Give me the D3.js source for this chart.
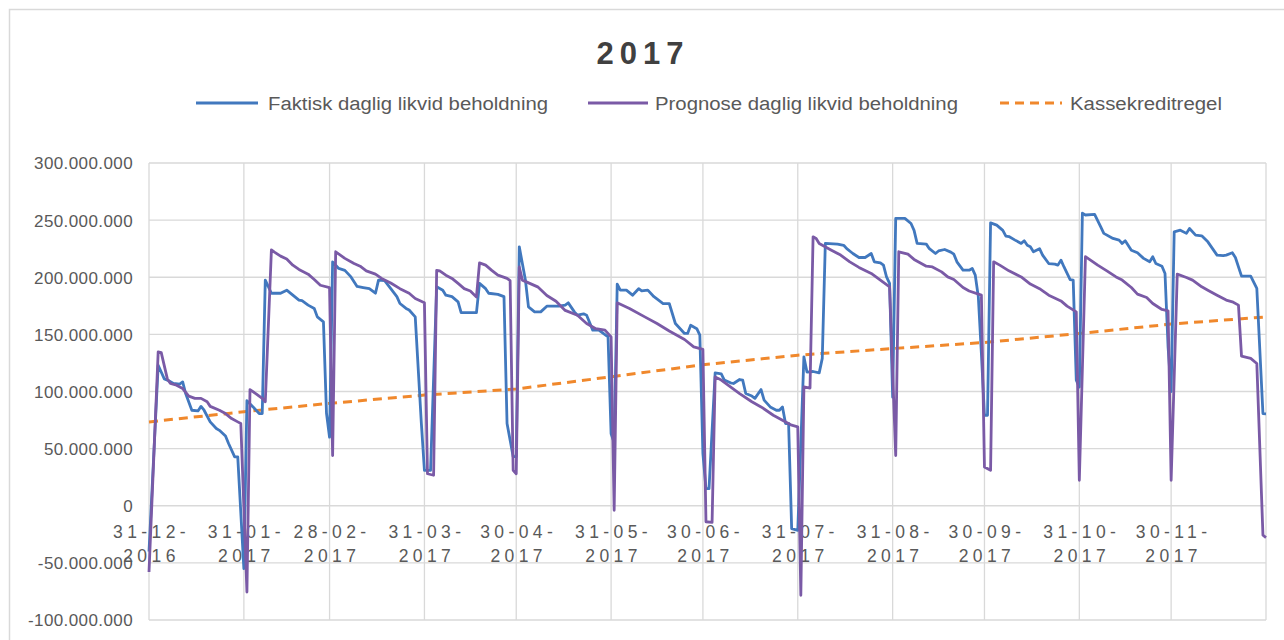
<!DOCTYPE html>
<html>
<head>
<meta charset="utf-8">
<script src="https://cdn.jsdelivr.net/npm/d3@7"></script>
<style>
  html, body { margin: 0; padding: 0; background: #ffffff; }
  svg { display: block; }
</style>
</head>
<body>
<svg id="chart" width="1284" height="640"></svg>
<script>
// ---- DATA (values in millions DKK, day = days after 31-12-2016) ----
const chartTitle = "2017";
const seriesNames = ["Faktisk daglig likvid beholdning", "Prognose daglig likvid beholdning", "Kassekreditregel"];

const tickDates = ["2016-12-31","2017-01-31","2017-02-28","2017-03-31","2017-04-30","2017-05-31",
                   "2017-06-30","2017-07-31","2017-08-31","2017-09-30","2017-10-31","2017-11-30","2017-12-31"];
const yTicks = [-100, -50, 0, 50, 100, 150, 200, 250, 300];

const actualDays = [0,3,5,6,8,10,11,12,14,16,17,18,20,22,23,25,26,28,29,31,32,34,36,37,38,40,43,45,47,49,50,52,54,55,57,58,59,
  60,62,64,66,68,70,72,74,75,77,79,81,82,84,85,87,89,90,92,94,96,97,99,101,102,107,108,110,111,114,116,117,119,120,
  121,123,124,126,128,130,134,136,137,139,140,142,143,145,147,150,151,152,153,154,156,158,160,161,163,165,168,170,172,175,176,177,179,180,181,182,183,
  185,187,188,190,191,193,194,195,197,198,200,201,203,205,206,207,208,209,210,212,214,215,217,219,220,
  221,225,227,228,230,232,234,236,237,239,240,241,242,243,244,247,249,250,251,254,255,257,258,260,262,263,264,266,268,269,270,271,272,273,274,
  275,277,279,280,281,283,285,286,287,288,289,291,292,294,296,297,298,299,301,302,303,304,
  305,306,309,311,312,315,317,318,319,321,323,325,327,328,329,331,332,333,334,
  335,337,339,340,342,344,346,349,351,352,354,355,357,360,362,364,365];
const actualValues = [-40,123,111,110,107,106.5,108.4,98,83.6,83,87,83.6,73.4,67.6,66,61,54.5,42.8,42.8,-55,92,86.5,80.7,80.7,197.5,186,186,188.7,184.3,180,179.5,175.6,172.7,165.3,161,81,60,
  213.5,207.7,206,200.3,192,191,190,186,197.5,197,190,183,177,172.7,171.3,165.3,72,31,31,191.6,188.7,184.3,183,178.5,169,169,194.6,190,186,185,183,72,43,43,
  226.6,197.5,174,169.7,169.7,174.7,174.7,175.6,177.6,169.7,166.8,168,166.8,153.7,153.7,147.8,63,55,194,188.7,188.7,184.3,190,188,188.7,183,177,177,159.5,150.8,150.8,158,155,149.3,45.7,15,15,
  116.3,115.5,110,107.6,107,110.5,110,98.2,96,94,101.7,92.4,86.5,83.6,83.6,86.5,72,72,-20,-21.5,130.3,117,117.5,116.3,129,
  229.6,229,228,225,220.8,217.3,217.3,220.8,213.5,212.6,210.6,200.3,194.6,95,251.5,251.5,247,241,229.6,229,225,220.8,223,224.3,222,220.2,213.5,206.2,206.2,207.7,201.8,182.8,133,79.2,79.2,
  247.6,245.6,241,236,235.6,232.5,229.6,231.9,228,226.6,222.3,225,219.4,212,211.5,210.6,215,209,198,197.5,110,104,
  256,254.5,255,244,238.4,234,232.5,229.6,231.9,223.7,221.4,216.5,213.5,217.9,212,209.7,203.3,139,100,
  239.7,241.2,238.4,242.7,236.9,236.3,231,219.4,219,219.4,221.4,217.3,201,201,190.2,80.7,80.5];

const forecastDays = [0,3,4,6,7,9,11,13,15,17,19,20,23,25,27,29,30,32,33,35,37,38,40,41,43,45,47,49,52,54,56,59,60,
  61,64,67,69,71,74,76,79,82,85,87,90,91,93,94,95,97,99,101,103,105,107,108,110,112,114,117,118,119,120,
  121,122,127,130,133,136,140,143,146,149,151,152,153,157,162,166,170,175,178,181,182,184,
  185,187,190,193,197,200,204,207,210,212,213,214,216,217,218,219,223,226,229,232,236,239,242,244,
  245,248,250,254,256,259,261,263,266,268,272,273,275,276,278,281,285,288,291,294,298,300,303,304,
  306,308,310,313,316,318,321,323,326,328,331,333,334,336,339,341,344,346,349,352,354,356,357,360,362,364,365];
const forecastValues = [-58,134.7,134,111,107,105.5,102.6,96,94,94,91,87,83.6,80.7,76.3,73.4,72,-75.5,101.7,98,94,91,224,222,218.5,216,210.6,206.8,202.7,198,193,191,44,
  222.3,216.5,212,209.7,205.6,202.7,199,195,190,186,181.4,177.6,28,26.7,206,205.5,201.8,199,194.6,190,188,182.8,212.6,210.6,206,201.8,199,197,31,28,
  209,197.5,191.6,184,179,171,166.8,159.5,155,153.7,147.8,-4,177.6,172.7,165.3,159.5,153,145.5,139,136.8,-14,-14.5,
  112.8,110,104,98.2,91,86.5,79.2,74.9,70.5,69,-78.4,104,103,235.4,234,229.6,223.7,219.4,213.5,208.6,203.3,197.5,191.6,44,
  222.3,220.2,215.6,209.7,209,204.7,200.3,198,191,188,184.3,34,31,213.5,210.6,205.6,200.3,194,190,184.3,179.3,174.7,169.7,22.3,
  218,214.4,210.6,205.6,200.3,197.5,191,185.2,182.3,177,171.8,170.6,22.3,202.7,199.8,197.5,191.6,188.7,184.3,180,178.5,175.6,131,129,124.5,-25.8,-27.8];

const ruleDays = [0,31,59,90,120,151,181,212,243,273,304,334,365];
const ruleValues = [73.4,82.3,89.6,96.9,102.2,112.9,123.4,131.8,137.6,142.9,150.8,159,165.3];

// ---- LAYOUT / STYLE ----
const colors = ["#4178be", "#7a5aa6", "#f0882c"];
const plot = { left: 149, right: 1266, top: 163, bottom: 620 };
const svg = d3.select("#chart");

const parse = d3.timeParse("%Y-%m-%d");
const baseDate = parse(tickDates[0]);
const toDate = d => d3.timeDay.offset(baseDate, d);

const x = d3.scaleTime()
  .domain([parse(tickDates[0]), parse(tickDates[tickDates.length - 1])])
  .range([plot.left, plot.right]);
const y = d3.scaleLinear().domain([-100, 300]).range([plot.bottom, plot.top]);

// outer chart frame
svg.append("rect").attr("x", 9.5).attr("y", 9.5).attr("width", 1300).attr("height", 700)
  .attr("fill", "none").attr("stroke", "#d9d9d9").attr("stroke-width", 1.5);

// gridlines
const grid = svg.append("g");
grid.selectAll("line.h").data(yTicks).join("line")
  .attr("x1", plot.left).attr("x2", plot.right)
  .attr("y1", d => y(d)).attr("y2", d => y(d))
  .attr("stroke", "#d9d9d9").attr("stroke-width", 1.3);
grid.selectAll("line.v").data(tickDates).join("line")
  .attr("x1", d => x(parse(d))).attr("x2", d => x(parse(d)))
  .attr("y1", plot.top).attr("y2", plot.bottom)
  .attr("stroke", "#d9d9d9").attr("stroke-width", 1.3);

// y axis labels
const fmtY = v => v === 0 ? "0" : d3.format(",")(v * 1e6).replace(/,/g, ".").replace("−", "-");
const yAxis = d3.axisLeft(y).tickValues(yTicks).tickSize(0).tickPadding(0).tickFormat(fmtY);
const gy = svg.append("g").attr("transform", `translate(${133},0)`).call(yAxis);
gy.select(".domain").remove();
gy.selectAll("text")
  .attr("font-family", "Liberation Sans, Arial, sans-serif")
  .attr("font-size", 17).attr("fill", "#595959")
  .attr("letter-spacing", "0.4px").attr("dy", "0.35em");

// x axis labels (two lines, drawn just below the zero line)
const fmtA = d3.timeFormat("%d-%m-");
const fmtB = d3.timeFormat("%Y");
const xAxis = d3.axisBottom(x).tickValues(tickDates.slice(0, -1).map(parse)).tickSize(0).tickFormat("");
const gx = svg.append("g").attr("transform", `translate(0,${y(0)})`).call(xAxis);
gx.select(".domain").remove();
gx.selectAll(".tick").each(function(d) {
  const t = d3.select(this).append("text")
    .attr("font-family", "Liberation Sans, Arial, sans-serif")
    .attr("font-size", 17.5).attr("fill", "#595959")
    .attr("letter-spacing", "4.4px").attr("text-anchor", "middle");
  t.append("tspan").attr("x", 2).attr("y", 32).text(fmtA(d));
  t.append("tspan").attr("x", 2).attr("y", 56).text(fmtB(d));
});

// lines
const line = d3.line().x(p => x(toDate(p[0]))).y(p => y(p[1]));
const zip = (a, b) => a.map((d, i) => [d, b[i]]);

svg.append("path").datum(zip(ruleDays, ruleValues))
  .attr("d", line).attr("fill", "none").attr("stroke", colors[2])
  .attr("stroke-width", 3).attr("stroke-dasharray", "9,6");
svg.append("path").datum(zip(actualDays, actualValues))
  .attr("d", line).attr("fill", "none").attr("stroke", colors[0])
  .attr("stroke-width", 2.8).attr("stroke-linejoin", "round");
svg.append("path").datum(zip(forecastDays, forecastValues))
  .attr("d", line).attr("fill", "none").attr("stroke", colors[1])
  .attr("stroke-width", 2.8).attr("stroke-linejoin", "round");

// title
svg.append("text").attr("x", 643).attr("y", 64).attr("text-anchor", "middle")
  .attr("font-family", "Liberation Sans, Arial, sans-serif").attr("font-weight", "bold")
  .attr("font-size", 31).attr("letter-spacing", "6px").attr("fill", "#404040")
  .text(chartTitle);

// legend
const legendItems = [
  { x1: 196, x2: 258, tx: 268, tw: 280, dash: null },
  { x1: 588, x2: 648, tx: 655, tw: 303, dash: null },
  { x1: 1000, x2: 1062, tx: 1070, tw: 152, dash: "9,6" }
];
const lg = svg.append("g");
legendItems.forEach((it, i) => {
  lg.append("line").attr("x1", it.x1).attr("x2", it.x2).attr("y1", 103).attr("y2", 103)
    .attr("stroke", colors[i]).attr("stroke-width", 3)
    .attr("stroke-dasharray", it.dash);
  lg.append("text").attr("x", it.tx).attr("y", 110)
    .attr("font-family", "Liberation Sans, Arial, sans-serif").attr("font-size", 18)
    .attr("fill", "#595959").attr("textLength", it.tw).attr("lengthAdjust", "spacingAndGlyphs")
    .text(seriesNames[i]);
});
</script>
</body>
</html>
